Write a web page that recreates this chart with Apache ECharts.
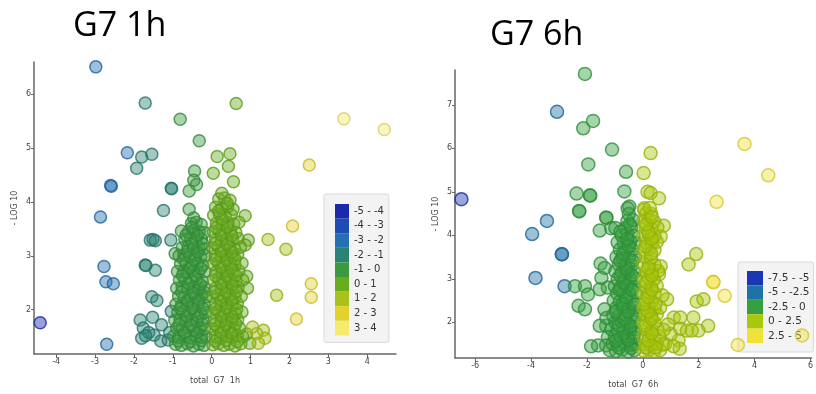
<!DOCTYPE html>
<html>
<head>
<meta charset="utf-8">
<script src="https://cdn.jsdelivr.net/npm/echarts@6/dist/echarts.min.js"></script>
<style>
  html, body { margin: 0; padding: 0; background: #fff; }
  #chart { width: 816px; height: 394px; }
</style>
</head>
<body>
<div id="chart"></div>
<script>
// [total G7 (fold change), -LOG 10]
const points1h = [
  // spread out points
  [-2.98, 6.50], [-1.71, 5.83], [0.63, 5.82], [-0.81, 5.53], [3.40, 5.54], [4.44, 5.34],
  [-0.32, 5.13], [-2.17, 4.91], [-1.80, 4.83], [-1.54, 4.88], [-1.93, 4.62],
  [0.14, 4.84], [0.47, 4.89], [0.43, 4.66], [2.51, 4.68], [0.04, 4.53],
  [-0.44, 4.57], [-0.46, 4.40], [-0.39, 4.32], [-0.58, 4.20],
  [-2.60, 4.30], [-2.58, 4.29], [-1.04, 4.25], [-1.03, 4.24], [0.56, 4.37],
  [-1.24, 3.84], [-0.58, 3.86], [-2.86, 3.72], [2.08, 3.55], [1.45, 3.30], [1.91, 3.12],
  [-1.58, 3.29], [-1.51, 3.30], [-1.45, 3.28], [-1.05, 3.29], [0.94, 3.29], [0.86, 3.20], [0.86, 3.74],
  [-0.94, 3.04], [-0.73, 2.70],
  [-2.77, 2.80], [-1.71, 2.83], [-1.69, 2.82], [-1.45, 2.73],
  [-2.72, 2.52], [-2.53, 2.48], [2.56, 2.48], [2.56, 2.23], [1.67, 2.27], [0.90, 2.62], [0.92, 2.40],
  [-1.54, 2.24], [-1.41, 2.17], [-1.04, 1.97], [2.18, 1.83], [-4.41, 1.76],
  [-1.84, 1.81], [-1.52, 1.86], [-1.76, 1.66], [-1.80, 1.47], [-1.48, 1.53], [-1.29, 1.72],
  [-1.31, 1.42], [-1.62, 1.58], [-1.70, 1.52], [-2.70, 1.36], [-1.12, 1.44], [-1.08, 1.58],
  [1.33, 1.62], [1.37, 1.47], [1.16, 1.56], [1.20, 1.38], [0.98, 1.38], [0.90, 1.55], [1.05, 1.68],
  // dense part, left of zero
  [-0.93, 1.36], [-0.78, 1.34], [-0.62, 1.37], [-0.47, 1.33], [-0.33, 1.36], [-0.20, 1.34],
  [-0.98, 1.51], [-0.84, 1.49], [-0.69, 1.52], [-0.55, 1.48], [-0.40, 1.51], [-0.26, 1.49], [-0.15, 1.50],
  [-0.90, 1.66], [-0.75, 1.64], [-0.60, 1.67], [-0.45, 1.63], [-0.31, 1.66], [-0.18, 1.65],
  [-0.95, 1.80], [-0.81, 1.82], [-0.66, 1.79], [-0.51, 1.81], [-0.37, 1.78], [-0.23, 1.81],
  [-0.87, 1.95], [-0.72, 1.97], [-0.57, 1.94], [-0.43, 1.96], [-0.28, 1.93], [-0.16, 1.95],
  [-0.92, 2.10], [-0.78, 2.08], [-0.63, 2.11], [-0.48, 2.09], [-0.34, 2.12], [-0.20, 2.09],
  [-0.85, 2.25], [-0.70, 2.23], [-0.55, 2.26], [-0.41, 2.24], [-0.26, 2.27], [-0.15, 2.24],
  [-0.90, 2.40], [-0.76, 2.42], [-0.61, 2.39], [-0.46, 2.41], [-0.32, 2.38], [-0.19, 2.41],
  [-0.83, 2.55], [-0.68, 2.57], [-0.53, 2.54], [-0.39, 2.56], [-0.24, 2.53],
  [-0.88, 2.71], [-0.63, 2.69], [-0.48, 2.72], [-0.34, 2.70], [-0.18, 2.71],
  [-0.80, 2.85], [-0.66, 2.87], [-0.51, 2.84], [-0.37, 2.86], [-0.23, 2.83],
  [-0.84, 3.00], [-0.71, 3.02], [-0.56, 2.99], [-0.42, 3.01], [-0.28, 2.98], [-0.16, 3.00],
  [-0.76, 3.15], [-0.61, 3.17], [-0.47, 3.14], [-0.33, 3.16], [-0.20, 3.13],
  [-0.69, 3.30], [-0.54, 3.32], [-0.40, 3.29], [-0.26, 3.31],
  [-0.78, 3.46], [-0.60, 3.44], [-0.46, 3.47], [-0.32, 3.45], [-0.19, 3.43],
  [-0.52, 3.60], [-0.40, 3.62], [-0.27, 3.58], [-0.46, 3.70],
  [-0.86, 1.42], [-0.55, 1.41], [-0.27, 1.43], [-0.70, 1.58], [-0.38, 1.58], [-0.83, 1.73],
  [-0.53, 1.72], [-0.24, 1.73], [-0.65, 1.88], [-0.35, 1.87], [-0.80, 2.02], [-0.50, 2.03],
  [-0.22, 2.02], [-0.62, 2.17], [-0.33, 2.18], [-0.77, 2.33], [-0.48, 2.32], [-0.20, 2.33],
  [-0.60, 2.48], [-0.30, 2.47], [-0.75, 2.63], [-0.42, 2.63], [-0.56, 2.78], [-0.28, 2.77],
  [-0.72, 2.93], [-0.44, 2.92], [-0.62, 3.08], [-0.36, 3.07], [-0.50, 3.23], [-0.23, 3.22],
  [-0.66, 3.38], [-0.37, 3.38], [-0.50, 3.53],
  // dense part, right of zero
  [0.03, 1.35], [0.17, 1.37], [0.31, 1.34], [0.46, 1.36], [0.60, 1.33], [0.75, 1.37],
  [0.09, 1.50], [0.23, 1.48], [0.38, 1.51], [0.52, 1.49], [0.66, 1.52], [0.80, 1.50],
  [0.02, 1.65], [0.16, 1.67], [0.30, 1.64], [0.44, 1.66], [0.58, 1.63], [0.72, 1.66],
  [0.10, 1.80], [0.24, 1.78], [0.39, 1.81], [0.53, 1.79], [0.67, 1.82],
  [0.04, 1.95], [0.18, 1.97], [0.33, 1.94], [0.47, 1.96], [0.61, 1.93], [0.78, 1.96],
  [0.10, 2.10], [0.24, 2.08], [0.38, 2.11], [0.52, 2.09], [0.66, 2.12],
  [0.02, 2.25], [0.16, 2.27], [0.31, 2.24], [0.45, 2.26], [0.60, 2.23], [0.76, 2.25],
  [0.10, 2.40], [0.25, 2.38], [0.39, 2.41], [0.54, 2.39], [0.68, 2.42],
  [0.04, 2.55], [0.18, 2.57], [0.33, 2.54], [0.47, 2.56], [0.62, 2.53], [0.80, 2.55],
  [0.11, 2.70], [0.26, 2.68], [0.40, 2.71], [0.55, 2.69], [0.70, 2.72],
  [0.03, 2.85], [0.17, 2.87], [0.32, 2.84], [0.46, 2.86], [0.60, 2.83], [0.78, 2.86],
  [0.09, 3.00], [0.24, 2.98], [0.38, 3.01], [0.53, 2.99], [0.67, 3.02],
  [0.02, 3.15], [0.16, 3.17], [0.31, 3.14], [0.45, 3.16], [0.59, 3.13], [0.74, 3.16],
  [0.10, 3.30], [0.25, 3.28], [0.39, 3.31], [0.54, 3.29], [0.68, 3.32],
  [0.04, 3.45], [0.19, 3.47], [0.33, 3.44], [0.48, 3.46], [0.62, 3.43],
  [0.12, 3.60], [0.27, 3.58], [0.42, 3.61], [0.57, 3.59], [0.70, 3.62],
  [0.05, 3.75], [0.20, 3.77], [0.35, 3.74], [0.50, 3.76],
  [0.10, 3.90], [0.26, 3.88], [0.41, 3.91], [0.55, 3.86],
  [0.18, 4.05], [0.33, 4.07], [0.47, 4.03], [0.26, 4.16],
  [0.10, 1.42], [0.38, 1.43], [0.66, 1.41], [0.24, 1.58], [0.52, 1.57], [0.09, 1.73],
  [0.37, 1.72], [0.62, 1.74], [0.25, 1.88], [0.53, 1.87], [0.10, 2.02], [0.38, 2.03],
  [0.64, 2.01], [0.24, 2.17], [0.52, 2.18], [0.09, 2.33], [0.38, 2.32], [0.63, 2.34],
  [0.25, 2.48], [0.53, 2.47], [0.10, 2.63], [0.40, 2.62], [0.62, 2.64], [0.25, 2.78],
  [0.50, 2.77], [0.10, 2.93], [0.39, 2.92], [0.60, 2.94], [0.25, 3.08], [0.52, 3.07],
  [0.10, 3.23], [0.40, 3.22], [0.25, 3.38], [0.52, 3.37], [0.12, 3.52], [0.40, 3.53],
  [0.27, 3.68], [0.18, 3.83], [0.40, 3.97]
];

const points6h = [
  // spread out points
  [-2.07, 7.71], [-3.07, 6.84], [-2.13, 6.46], [-1.78, 6.63], [-1.10, 5.97], [-1.95, 5.63], [-0.60, 5.46],
  [0.28, 5.89], [0.03, 5.43], [3.64, 6.10], [4.49, 5.38], [2.64, 4.77], [-6.49, 4.83],
  [-2.37, 4.96], [-1.89, 4.92], [-1.88, 4.91], [-0.66, 5.01], [0.17, 5.00], [0.28, 4.97], [0.58, 4.85],
  [-2.28, 4.56], [-2.27, 4.55], [-3.43, 4.33], [-3.96, 4.03], [-1.31, 4.41], [-1.30, 4.40],
  [-1.54, 4.11], [-1.13, 4.16],
  [-2.90, 3.57], [-2.89, 3.56], [-3.84, 3.02], [-2.80, 2.83], [-1.51, 3.35], [-1.36, 3.25], [-1.48, 3.02],
  [1.91, 3.57], [1.64, 3.33], [2.52, 2.93], [2.53, 2.92], [2.93, 2.61], [1.93, 2.48], [2.17, 2.53],
  [1.81, 2.11], [2.34, 1.92], [1.99, 1.81], [3.40, 1.48], [5.70, 1.70],
  [-2.43, 2.83], [-2.07, 2.83], [-1.96, 2.64], [-2.30, 2.38], [-2.07, 2.30], [-1.54, 2.76],
  [-1.25, 2.80], [-1.37, 2.30], [-1.31, 1.92], [-1.54, 1.92], [-1.25, 1.66], [-1.60, 1.47],
  [-1.31, 1.47], [-1.85, 1.45], [-1.30, 2.10],
  [0.75, 4.22], [0.64, 3.97], [0.64, 3.29], [0.58, 3.10], [0.87, 2.53], [0.70, 2.62], [1.11, 2.11],
  [1.34, 2.11], [1.34, 1.85], [1.58, 1.81], [1.28, 1.58], [1.32, 1.39], [1.00, 1.73], [1.75, 1.81],
  [0.90, 1.95], [0.80, 1.50], [1.10, 1.45], [0.05, 4.58], [-0.48, 4.66],
  // dense part, left of zero
  [-1.18, 1.36], [-0.96, 1.34], [-0.74, 1.37], [-0.52, 1.33], [-0.30, 1.36],
  [-1.08, 1.51], [-0.86, 1.49], [-0.63, 1.52], [-0.41, 1.48], [-0.27, 1.50],
  [-1.00, 1.67], [-0.78, 1.65], [-0.55, 1.68], [-0.33, 1.66],
  [-1.12, 1.84], [-0.90, 1.82], [-0.68, 1.85], [-0.46, 1.83], [-0.27, 1.84],
  [-0.98, 2.00], [-0.76, 2.02], [-0.54, 1.99], [-0.32, 2.01],
  [-1.06, 2.17], [-0.85, 2.15], [-0.62, 2.18], [-0.40, 2.16], [-0.26, 2.17],
  [-0.95, 2.33], [-0.72, 2.35], [-0.50, 2.32], [-0.30, 2.34],
  [-1.04, 2.50], [-0.82, 2.48], [-0.60, 2.51], [-0.37, 2.49],
  [-0.92, 2.67], [-0.70, 2.69], [-0.47, 2.66], [-0.27, 2.68],
  [-1.00, 2.83], [-0.78, 2.81], [-0.55, 2.84], [-0.33, 2.82],
  [-0.90, 3.00], [-0.66, 3.02], [-0.43, 2.99], [-0.26, 3.01],
  [-0.98, 3.17], [-0.75, 3.15], [-0.52, 3.18], [-0.30, 3.16],
  [-0.86, 3.33], [-0.63, 3.35], [-0.40, 3.32],
  [-0.94, 3.50], [-0.72, 3.48], [-0.49, 3.51], [-0.28, 3.49],
  [-0.82, 3.67], [-0.60, 3.69], [-0.37, 3.66],
  [-0.90, 3.84], [-0.68, 3.82], [-0.45, 3.85], [-0.27, 3.83],
  [-0.76, 4.00], [-0.55, 4.02], [-0.33, 3.99],
  [-0.98, 4.17], [-0.63, 4.16], [-0.42, 4.18],
  [-0.55, 4.33], [-0.35, 4.35], [-0.50, 4.49], [-0.54, 4.62],
  [-0.85, 1.42], [-0.41, 1.41], [-0.96, 1.58], [-0.52, 1.59], [-0.68, 1.75], [-0.30, 1.75],
  [-0.86, 1.92], [-0.44, 1.91], [-0.65, 2.08], [-0.96, 2.25], [-0.52, 2.25], [-0.72, 2.42],
  [-0.30, 2.41], [-0.60, 2.58], [-0.82, 2.75], [-0.40, 2.75], [-0.68, 2.92], [-0.80, 3.08],
  [-0.40, 3.08], [-0.60, 3.25], [-0.80, 3.42], [-0.38, 3.41], [-0.70, 3.58], [-0.50, 3.75],
  [-0.56, 3.92], [-0.80, 4.08], [-0.46, 4.25],
  // dense part, right of zero
  [0.02, 1.35], [0.22, 1.37], [0.42, 1.34], [0.62, 1.36],
  [0.10, 1.50], [0.30, 1.48], [0.50, 1.51], [0.72, 1.49],
  [0.03, 1.67], [0.22, 1.69], [0.42, 1.66], [0.60, 1.68],
  [0.12, 1.84], [0.32, 1.82], [0.52, 1.85], [0.75, 1.83],
  [0.02, 2.00], [0.22, 2.02], [0.42, 1.99],
  [0.10, 2.17], [0.30, 2.15], [0.50, 2.18],
  [0.03, 2.33], [0.22, 2.35], [0.42, 2.32], [0.62, 2.34],
  [0.12, 2.50], [0.32, 2.48],
  [0.02, 2.67], [0.22, 2.69], [0.42, 2.66],
  [0.10, 2.83], [0.30, 2.81], [0.50, 2.84],
  [0.03, 3.00], [0.22, 3.02], [0.40, 2.99],
  [0.12, 3.17], [0.32, 3.15], [0.55, 3.18],
  [0.02, 3.33], [0.22, 3.35], [0.42, 3.32],
  [0.10, 3.50], [0.30, 3.48],
  [0.03, 3.67], [0.22, 3.69], [0.42, 3.66],
  [0.12, 3.84], [0.32, 3.82], [0.50, 3.85],
  [0.02, 4.00], [0.22, 4.02], [0.42, 3.99],
  [0.10, 4.17], [0.30, 4.15], [0.52, 4.18],
  [0.03, 4.33], [0.22, 4.35], [0.40, 4.32],
  [0.12, 4.50], [0.30, 4.49], [0.05, 4.62], [0.25, 4.63],
  [0.12, 1.42], [0.45, 1.42], [0.20, 1.58], [0.32, 1.75], [0.08, 1.92], [0.32, 2.08],
  [0.20, 2.25], [0.05, 2.42], [0.45, 2.42], [0.20, 2.58], [0.32, 2.75], [0.12, 2.92],
  [0.32, 3.08], [0.20, 3.25], [0.30, 3.58], [0.10, 3.75], [0.32, 3.92], [0.20, 4.08],
  [0.12, 4.25], [0.32, 4.42]
];

// colour classes (by fold change); outer edges widened to the axis range
const bins1h = [-5, -4, -3, -2, -1, 0, 1, 2, 3, 5];
const labels1h = ['-5 - -4', '-4 - -3', '-3 - -2', '-2 - -1', '-1 - 0', '0 - 1', '1 - 2', '2 - 3', '3 - 4'];
const bins6h = [-7.5, -5, -2.5, 0, 2.5, 6.5];
const labels6h = ['-7.5 - -5', '-5 - -2.5', '-2.5 - 0', '0 - 2.5', '2.5 - 5'];

const xTicks1h = [-4, -3, -2, -1, 0, 1, 2, 3, 4];
const yTicks1h = [2, 3, 4, 5, 6];
const xTicks6h = [-6, -4, -2, 0, 2, 4, 6];
const yTicks6h = [2, 3, 4, 5, 6, 7];

const colors1h = ['#1a2aa8', '#1d4cb4', '#2570b2', '#2b8373', '#3b9a3f', '#69ad1f', '#a8c21a', '#e3d12c', '#f5e96e'];
const colors6h = ['#1a36b0', '#1f72a8', '#35a040', '#a9c80c', '#f1e23a'];

const chart = echarts.init(document.getElementById('chart'));

function rgb(hex) {
  const n = parseInt(hex.slice(1), 16);
  return [(n >> 16) & 255, (n >> 8) & 255, n & 255];
}
function alpha(hex, a) {
  const c = rgb(hex);
  return 'rgba(' + c[0] + ',' + c[1] + ',' + c[2] + ',' + a + ')';
}
function darker(hex, k) {
  const c = rgb(hex).map(v => Math.round(v * (1 - k)));
  return 'rgb(' + c.join(',') + ')';
}

function makeSeries(points, bins, labels, colors, idx, size) {
  return labels.map((name, i) => ({
    type: 'scatter',
    name: name,
    xAxisIndex: idx,
    yAxisIndex: idx,
    data: points.filter(p => p[0] >= bins[i] && p[0] < bins[i + 1]),
    symbolSize: size,
    itemStyle: {
      color: alpha(colors[i], 0.55),
      borderColor: darker(colors[i], 0.12),
      borderWidth: 1.5
    },
    z: 5,
    silent: true
  }));
}

function makeLegend(labels, colors, opts) {
  return Object.assign({
    orient: 'vertical',
    icon: 'rect',
    itemGap: 0,
    selectedMode: false,
    backgroundColor: '#f3f3f3',
    borderColor: '#d9d9d9',
    borderWidth: 1,
    borderRadius: 2,
    data: labels.map((n, i) => ({ name: n, itemStyle: { color: colors[i], borderWidth: 0, opacity: 1 } }))
  }, opts);
}

const axisFont = { fontFamily: 'DejaVu Sans', fontSize: 8, color: '#444' };

function xAxis(idx, min, max, ticks, name) {
  return {
    type: 'value', gridIndex: idx, min: min, max: max,
    name: name, nameLocation: 'middle', nameGap: 23,
    nameTextStyle: axisFont,
    splitLine: { show: false },
    axisLine: { onZero: false, lineStyle: { color: '#666', width: 1.5 } },
    axisTick: { customValues: ticks, length: 4, lineStyle: { color: '#666' } },
    axisLabel: Object.assign({ customValues: ticks, margin: 4 }, axisFont)
  };
}
function yAxis(idx, min, max, ticks, name) {
  return {
    type: 'value', gridIndex: idx, min: min, max: max,
    name: name, nameLocation: 'middle', nameGap: 15,
    nameTextStyle: axisFont,
    splitLine: { show: false },
    axisLine: { show: true, onZero: false, lineStyle: { color: '#666', width: 1.5 } },
    axisTick: { show: true, customValues: ticks, length: 3, lineStyle: { color: '#666' } },
    axisLabel: Object.assign({ customValues: ticks, margin: 3 }, axisFont)
  };
}

const titleFont = { fontFamily: 'Open Sans', fontSize: 34, fontWeight: 'normal', color: '#000' };

const option = {
  animation: false,
  backgroundColor: '#fff',
  title: [
    { text: 'G7 1h', left: 73, top: 9, padding: 0, textStyle: titleFont },
    { text: 'G7 6h', left: 490, top: 18, padding: 0, textStyle: titleFont }
  ],
  grid: [
    { left: 34, top: 62, width: 362, height: 292 },
    { left: 455, top: 70, width: 361, height: 291 }
  ],
  xAxis: [
    xAxis(0, -4.57, 4.74, xTicks1h, 'total  G7  1h'),
    xAxis(1, -6.72, 6.04, xTicks6h, 'total  G7  6h')
  ],
  yAxis: [
    yAxis(0, 1.18, 6.59, yTicks1h, '- LOG 10'),
    yAxis(1, 1.18, 7.8, yTicks6h, '- LOG 10')
  ],
  legend: [
    makeLegend(labels1h, colors1h, {
      left: 324, top: 194, padding: [10, 5, 7, 11],
      itemWidth: 14, itemHeight: 14.6,
      textStyle: { fontFamily: 'DejaVu Sans', fontSize: 10, color: '#333', lineHeight: 14 }
    }),
    makeLegend(labels6h, colors6h, {
      left: 738, top: 262, padding: [9, 4, 9, 9],
      itemWidth: 16, itemHeight: 14.4,
      textStyle: { fontFamily: 'DejaVu Sans', fontSize: 10.5, color: '#333', lineHeight: 14 }
    })
  ],
  series: makeSeries(points1h, bins1h, labels1h, colors1h, 0, 12)
    .concat(makeSeries(points6h, bins6h, labels6h, colors6h, 1, 13))
};

chart.setOption(option);
</script>
</body>
</html>
